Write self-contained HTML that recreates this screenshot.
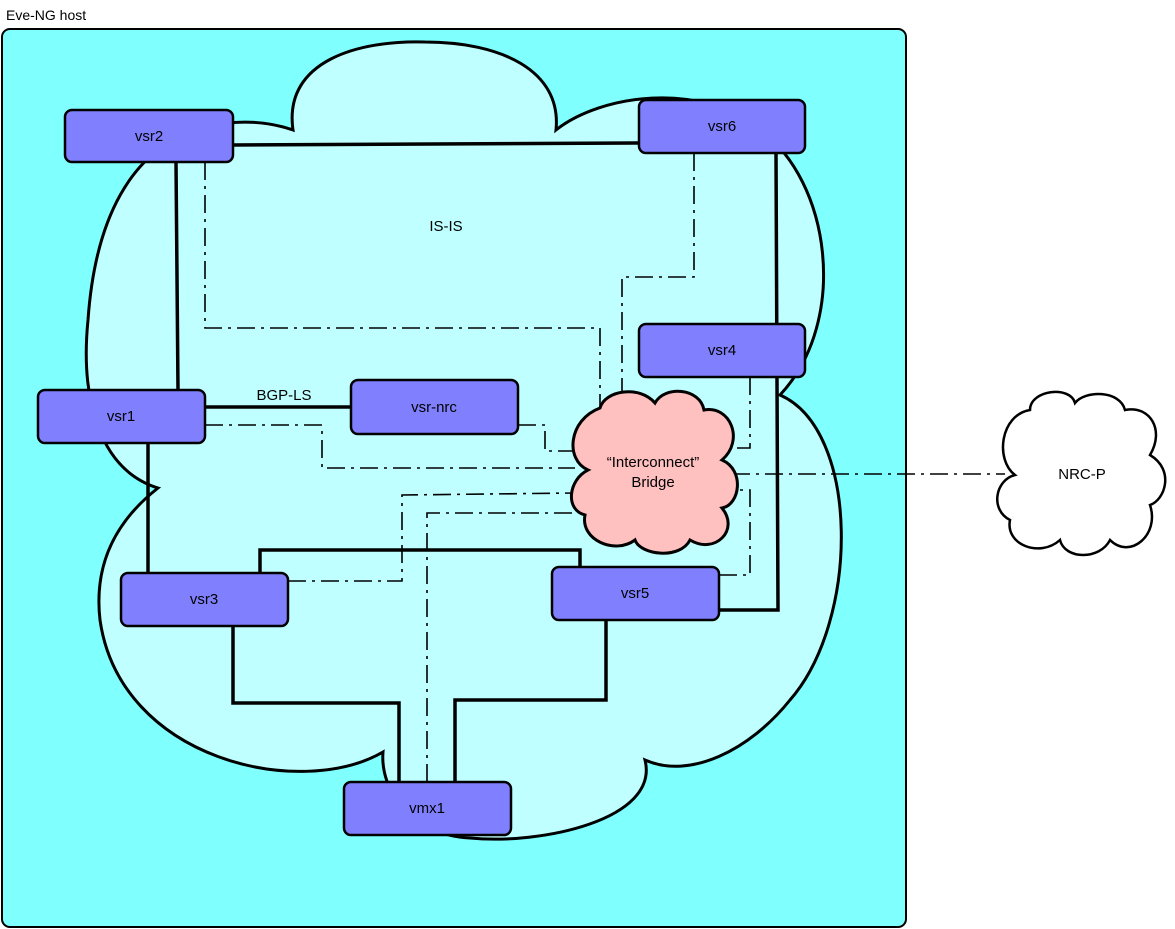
<!DOCTYPE html>
<html><head><meta charset="utf-8"><style>
html,body{margin:0;padding:0;background:#fff;width:1175px;height:929px;overflow:hidden}
svg text{font-family:"Liberation Sans",Arial,sans-serif;font-size:15px;fill:#000}
</style></head><body>
<svg width="1175" height="929" viewBox="0 0 1175 929">
<text x="6" y="20" style="font-size:14px">Eve-NG host</text>
<rect x="2" y="29" width="904" height="898" rx="8" fill="#80FFFF" stroke="#000" stroke-width="2"/>
<path d="M293,130 C283,60 360,40 425,42 C500,42 562,70 556,130 C600,95 700,80 760,130 C830,180 850,320 780,395 C860,430 860,620 790,700 C750,750 690,780 645,760 C660,820 540,845 470,838 C410,835 380,790 383,752 C300,800 120,760 100,620 C92,550 130,510 158,488 C100,470 80,400 88,320 C95,220 130,150 200,128 C240,118 270,122 293,130 Z" fill="#C0FFFF" stroke="#000" stroke-width="3"/>
<text x="446" y="231" text-anchor="middle">IS-IS</text>
<g fill="none" stroke="#000" stroke-width="3.5">
<path d="M233,145 L639,143"/>
<path d="M176,162 L178,390"/>
<path d="M148,443 L148,573"/>
<path d="M205,407 L351,407"/>
<path d="M776,153 L778,610 L719,610"/>
<path d="M260,573 L260,550 L580,550 L580,567"/>
<path d="M233,626 L233,703 L399,703 L399,782"/>
<path d="M606,620 L606,700 L455,700 L455,782"/>
</g>
<text x="284" y="400" text-anchor="middle">BGP-LS</text>
<g fill="none" stroke="#000" stroke-width="1.6" stroke-dasharray="18 6 3 6">
<path d="M205,162 L205,328 L600,328 L600,408"/>
<path d="M694,153 L694,277 L622,277 L622,392"/>
<path d="M750,377 L750,448 L732,448"/>
<path d="M732,474 L1005,474"/>
<path d="M719,575 L750,575 L750,490 L738,490"/>
<path d="M518,425 L545,425 L545,451 L574,451"/>
<path d="M205,425 L322,425 L322,468 L575,468"/>
<path d="M288,581 L402,581 L402,495 L575,493"/>
<path d="M427,782 L427,513 L575,513"/>
</g>
<g fill="#8080FF" stroke="#000" stroke-width="2.5">
<rect x="65" y="110" width="168" height="52" rx="7"/>
<rect x="639" y="100" width="166" height="53" rx="7"/>
<rect x="639" y="324" width="166" height="53" rx="7"/>
<rect x="38" y="390" width="167" height="53" rx="7"/>
<rect x="351" y="380" width="167" height="54" rx="7"/>
<rect x="121" y="573" width="167" height="53" rx="7"/>
<rect x="552" y="567" width="167" height="53" rx="7"/>
<rect x="344" y="782" width="167" height="53" rx="7"/>
</g>
<g text-anchor="middle">
<text x="149" y="141">vsr2</text>
<text x="722" y="131">vsr6</text>
<text x="722" y="355">vsr4</text>
<text x="121" y="421">vsr1</text>
<text x="434" y="412">vsr-nrc</text>
<text x="204" y="604">vsr3</text>
<text x="635" y="598">vsr5</text>
<text x="427" y="813">vmx1</text>
</g>
<path d="M600,408 C605,390 640,385 655,403 C665,385 700,388 704,410 C730,405 745,440 722,460 C745,470 740,505 722,508 C740,530 715,555 690,540 C680,560 640,555 635,540 C615,555 580,540 585,515 C565,510 568,480 588,470 C565,460 568,420 600,408 Z" fill="#FFC0C0" stroke="#000" stroke-width="3"/>
<text x="653" y="467" text-anchor="middle">“Interconnect”</text>
<text x="653" y="487" text-anchor="middle">Bridge</text>
<path d="M1030,410 C1030,390 1070,385 1075,403 C1085,390 1120,390 1125,410 C1150,405 1165,430 1150,455 C1175,470 1165,500 1150,505 C1160,535 1130,560 1110,540 C1100,560 1065,560 1060,540 C1040,558 1005,545 1010,520 C990,510 995,480 1015,475 C995,460 1000,415 1030,410 Z" fill="#fff" stroke="#000" stroke-width="2.5"/>
<text x="1082" y="479" text-anchor="middle">NRC-P</text>
</svg>
</body></html>
